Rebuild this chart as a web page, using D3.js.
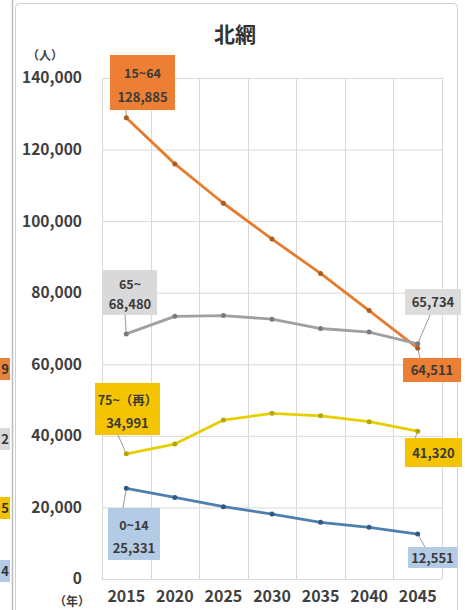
<!DOCTYPE html>
<html><head><meta charset="utf-8">
<script src="https://cdn.jsdelivr.net/npm/d3@7"></script>
<style>
html,body{margin:0;padding:0;background:#fff;}
svg{display:block;}
text{font-family:"Noto Sans CJK JP","Noto Sans",sans-serif;}
</style></head>
<body>
<svg id="c" width="465" height="610"></svg>
<script>
const years = ["2015","2020","2025","2030","2035","2040","2045"];
const yTicks = [0,20000,40000,60000,80000,100000,120000,140000];
const seriesNames = ["15~64","65~","75~（再）","0~14"];
const age15_64 = [128885,116000,105000,95000,85400,75000,64511];
const age65 = [68480,73400,73600,72600,70000,69000,65734];
const age75 = [34991,37700,44400,46300,45600,43950,41320];
const age0_14 = [25331,22800,20200,18160,15840,14440,12551];

const svg = d3.select("#c");
const fmt = d3.format(",");

// left neighbour strip (cropped previous chart)
const strip = svg.append("g");
strip.append("line").attr("x1",12.5).attr("x2",12.5).attr("y1",0).attr("y2",610).attr("stroke","#bdbdbd").attr("stroke-width",1.5);
const frag = [
  {y:358,h:22,fill:"#e8843a",t:"9"},
  {y:428,h:22,fill:"#d9d9d9",t:"2"},
  {y:497,h:22,fill:"#f2c200",t:"5"},
  {y:560,h:22,fill:"#b3cbe8",t:"4"}
];
frag.forEach(f=>{
  strip.append("rect").attr("x",0).attr("y",f.y).attr("width",10).attr("height",f.h).attr("fill",f.fill);
  strip.append("text").attr("x",9).attr("y",f.y+f.h/2+5).attr("text-anchor","end").attr("font-size",13).attr("font-weight","bold").attr("fill","#333").text(f.t);
});

// chart border
svg.append("rect").attr("x",15.5).attr("y",3.5).attr("width",442).attr("height",620).attr("rx",4)
  .attr("fill","#fff").attr("stroke","#d0d0d0").attr("stroke-width",1);

const x = d3.scaleBand().domain(years).range([102,442]);
const y = d3.scaleLinear().domain([0,140000]).range([579,78]);
const cx = d => x(d) + x.bandwidth()/2;

// gridlines
const grid = svg.append("g");
grid.selectAll("line.h").data(yTicks).enter().append("line")
  .attr("x1",102).attr("x2",442).attr("y1",d=>y(d)+0.5).attr("y2",d=>y(d)+0.5)
  .attr("stroke","#d9d9d9").attr("stroke-width",1);
const vb = years.map(d=>x(d)).concat([442]);
grid.selectAll("line.v").data(vb).enter().append("line")
  .attr("x1",d=>Math.round(d)+0.5).attr("x2",d=>Math.round(d)+0.5).attr("y1",y(140000)).attr("y2",y(0))
  .attr("stroke","#d9d9d9").attr("stroke-width",1);

// axes
const yAxis = d3.axisLeft(y).tickValues(yTicks).tickFormat(fmt).tickSize(0).tickPadding(20);
const gy = svg.append("g").attr("transform","translate(102,0)").call(yAxis);
gy.select(".domain").remove();
gy.selectAll("text").attr("font-size",15.5).attr("font-weight","bold").attr("fill","#404040")
  .attr("font-family","'Liberation Sans',Arial,sans-serif");

const xAxis = d3.axisBottom(x).tickSize(0).tickPadding(12);
const gx = svg.append("g").attr("transform","translate(0,579)").call(xAxis);
gx.select(".domain").remove();
gx.selectAll("text").attr("font-size",16).attr("font-weight","bold").attr("fill","#404040")
  .attr("font-family","'Liberation Sans',Arial,sans-serif");

svg.append("text").attr("x",45).attr("y",60).attr("text-anchor","middle").attr("font-size",12).attr("font-weight","bold").attr("fill","#404040").text("（人）");
svg.append("text").attr("x",72).attr("y",606).attr("text-anchor","middle").attr("font-size",12).attr("font-weight","bold").attr("fill","#404040").text("（年）");

// title
svg.append("text").attr("x",235).attr("y",42).attr("text-anchor","middle").attr("font-size",21).attr("font-weight","bold").attr("fill","#333").text("北網");

// series
const series = [
  {name:seriesNames[0],vals:age15_64,color:"#e67c2e",mark:"#b05a1c"},
  {name:seriesNames[1],vals:age65,color:"#a0a0a0",mark:"#7a7a7a"},
  {name:seriesNames[2],vals:age75,color:"#e6cf00",mark:"#b8a400"},
  {name:seriesNames[3],vals:age0_14,color:"#4f7fae",mark:"#2f5a85"}
];
const line = d3.line().x((d,i)=>cx(years[i])).y(d=>y(d));

// label boxes
const boxes = [
  {s:0,i:0,x:110,y:55,w:65,h:55,fill:"#ec7f33",two:true,lx:126,ly:110},
  {s:0,i:6,x:403,y:358,w:58,h:24,fill:"#ec7f33",two:false,lx:420,ly:358},
  {s:1,i:0,x:103,y:270,w:54,h:45,fill:"#d9d9d9",two:true,lx:125,ly:315},
  {s:1,i:6,x:405,y:289,w:56,h:26,fill:"#dcdcdc",two:false,lx:430,ly:315},
  {s:2,i:0,x:95,y:383,w:65,h:52,fill:"#f5c400",two:true,lx:118,ly:435},
  {s:2,i:6,x:405,y:438,w:57,h:29,fill:"#f5c400",two:false,lx:415,ly:438},
  {s:3,i:0,x:108,y:508,w:52,h:52,fill:"#b4cbe6",two:true,lx:123,ly:508},
  {s:3,i:6,x:408,y:547,w:49,h:21,fill:"#b4cbe6",two:false,lx:425,ly:547}
];

// leader lines
boxes.forEach(b=>{
  const s = series[b.s];
  svg.append("line").attr("x1",b.lx).attr("y1",b.ly).attr("x2",cx(years[b.i])).attr("y2",y(s.vals[b.i]))
    .attr("stroke","#9a9a9a").attr("stroke-width",1);
});

series.forEach(s=>{
  svg.append("path").datum(s.vals).attr("d",line).attr("fill","none")
    .attr("stroke",s.color).attr("stroke-width",2.8).attr("stroke-linejoin","round");
  svg.selectAll(null).data(s.vals).enter().append("circle")
    .attr("cx",(d,i)=>cx(years[i])).attr("cy",d=>y(d)).attr("r",2.5).attr("fill",s.mark);
});

boxes.forEach(b=>{
  const s = series[b.s];
  svg.append("rect").attr("x",b.x).attr("y",b.y).attr("width",b.w).attr("height",b.h).attr("fill",b.fill);
  const tx = b.x + b.w/2;
  const vtxt = fmt(s.vals[b.i]);
  if (b.two) {
    svg.append("text").attr("x",tx).attr("y",b.y+b.h*0.32+5).attr("text-anchor","middle")
      .attr("font-size",12.5).attr("font-weight","bold").attr("fill","#3a3a3a").text(s.name);
    svg.append("text").attr("x",tx).attr("y",b.y+b.h*0.76+5).attr("text-anchor","middle")
      .attr("font-size",13).attr("font-weight","bold").attr("fill","#3a3a3a")
      .attr("font-family","'Liberation Sans',Arial,sans-serif").text(vtxt);
  } else {
    svg.append("text").attr("x",tx).attr("y",b.y+b.h/2+5).attr("text-anchor","middle")
      .attr("font-size",13).attr("font-weight","bold").attr("fill","#3a3a3a")
      .attr("font-family","'Liberation Sans',Arial,sans-serif").text(vtxt);
  }
});
</script>
</body></html>
